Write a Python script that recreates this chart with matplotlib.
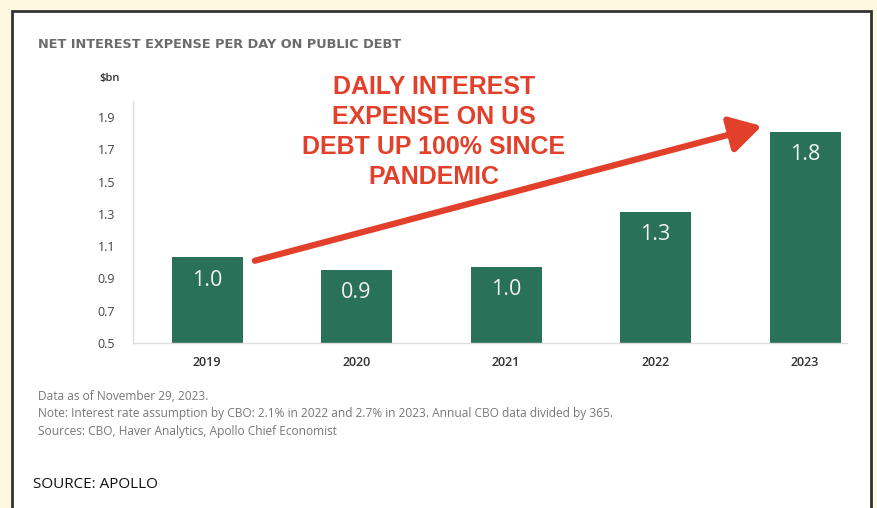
import matplotlib.pyplot as plt
from matplotlib.patches import Rectangle

years = ["2019", "2020", "2021", "2022", "2023"]
values = [1.03, 0.95, 0.97, 1.31, 1.81]
value_labels = ["1.0", "0.9", "1.0", "1.3", "1.8"]
yticks = [0.5, 0.7, 0.9, 1.1, 1.3, 1.5, 1.7, 1.9]

title = "NET INTEREST EXPENSE PER DAY ON PUBLIC DEBT"
callout = "DAILY INTEREST\nEXPENSE ON US\nDEBT UP 100% SINCE\nPANDEMIC"
notes = [
    "Data as of November 29, 2023.",
    "Note: Interest rate assumption by CBO: 2.1% in 2022 and 2.7% in 2023. Annual CBO data divided by 365.",
    "Sources: CBO, Haver Analytics, Apollo Chief Economist",
]
source = "SOURCE: APOLLO"

green = "#2a7159"
red = "#e2402a"
gray = "#6b6b6b"

fig = plt.figure(figsize=(8.77, 5.08), dpi=100)
fig.patch.set_facecolor("#fdf9e1")

# white panel with dark border
panel = Rectangle((12 / 877, -0.05), (871 - 12) / 877, 1.05 - 11 / 508,
                  transform=fig.transFigure, facecolor="white",
                  edgecolor="#333333", linewidth=2, zorder=-5)
fig.patches.append(panel)

ax = fig.add_axes([133 / 877, 1 - 343 / 508, (847 - 133) / 877, (343 - 101) / 508])
ax.set_zorder(2)
ax.set_facecolor("none")

x = range(len(years))
bars = ax.bar(x, [v - 0.5 for v in values], bottom=0.5, width=0.475, color=green, zorder=2)
for b, lab in zip(bars, value_labels):
    ax.text(b.get_x() + b.get_width() / 2, b.get_y() + b.get_height() - 0.14, lab,
            ha="center", va="center", color="#f2f2ee", fontsize=15.5,
            family="Open Sans", zorder=3)

ax.set_xlim(-0.495, 4.28)
ax.set_ylim(0.5, 2.0)
ax.set_yticks(yticks)
ax.set_yticklabels([f"{t:.1f}" for t in yticks], fontsize=9, color="#444444", family="Open Sans")
ax.set_xticks(list(x))
ax.set_xticklabels(years, fontsize=9, color="#333333", family="Open Sans", fontweight="semibold")
ax.tick_params(axis="y", length=0, pad=13)
ax.tick_params(axis="x", length=0, pad=9)
for s in ["top", "right"]:
    ax.spines[s].set_visible(False)
for s in ["left", "bottom"]:
    ax.spines[s].set_color("#dddddd")
    ax.spines[s].set_linewidth(1)

fig.text(38 / 877, 1 - 45 / 508, title, fontsize=9.3, color=gray, fontweight="bold",
         family="DejaVu Sans", va="center", ha="left")
fig.text(120 / 877, 1 - 79 / 508, "$bn", fontsize=8, color="#333333", fontweight="semibold",
         family="Open Sans", va="center", ha="right")

ax.annotate("", xy=(3.71, 1.845), xytext=(0.32, 1.01),
            arrowprops=dict(arrowstyle="-|>,head_length=1.9,head_width=1.1",
                            color=red, lw=4.5, shrinkA=0, shrinkB=0), zorder=4)
fig.text(434 / 877, 1 - 132 / 508, callout, fontsize=18, color=red, fontweight="bold",
         family="Liberation Sans", ha="center", va="center", linespacing=1.32)

for i, n in enumerate(notes):
    fig.text(38 / 877, 1 - (396 + 17.5 * i) / 508, n, fontsize=8.6, color="#777777",
             family="Open Sans", va="center", ha="left")
fig.text(33 / 877, 1 - 485 / 508, source, fontsize=11, color="#111111",
         family="Open Sans", va="center", ha="left")

fig.savefig("out.png", dpi=100, facecolor=fig.get_facecolor())
